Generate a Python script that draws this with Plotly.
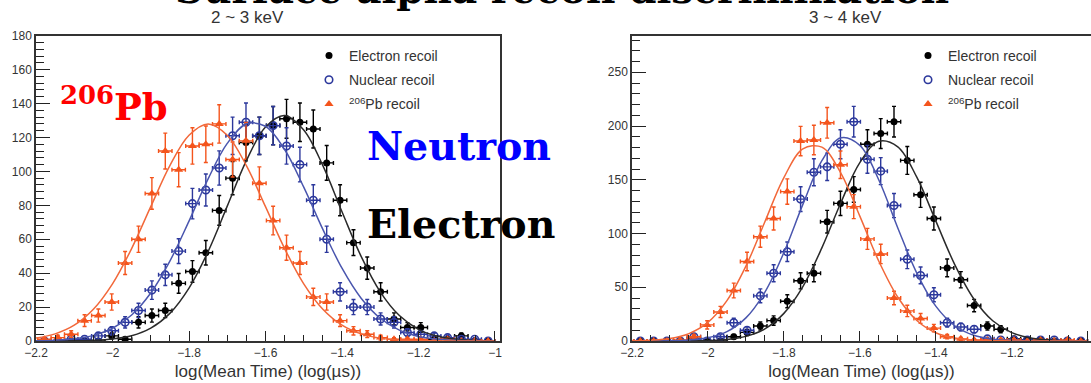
import numpy as np
import plotly.graph_objects as go

W, H = 1091, 383

# ---------------- data ----------------
bin_centers = [-2.178, -2.143, -2.108, -2.073, -2.037, -2.002, -1.967, -1.932, -1.897, -1.862,
               -1.827, -1.791, -1.756, -1.721, -1.686, -1.651, -1.616, -1.580, -1.545, -1.510,
               -1.475, -1.440, -1.405, -1.370, -1.334, -1.299, -1.264, -1.229, -1.194, -1.159,
               -1.124, -1.088, -1.053, -1.018]
bin_half_width = 0.0176

# 2 ~ 3 keV
left_electron = [0, 0, 0, 0, 0, 3, 1, 11, 15, 18, 34, 41, 52, 77, 96, 117, 121, 127, 131, 129,
                 125, 105, 83, 58, 43, 29, 13, 8, 8, 1, 1, 3, 0, 0]
left_nuclear = [0, 0, 1, 1, 3, 6, 11, 18, 30, 39, 53, 81, 89, 102, 121, 129, 121, 127, 115, 104,
                83, 60, 29, 20, 20, 13, 11, 5, 4, 3, 2, 1, 1, 0]
left_pb = [1, 2, 4, 12, 15, 23, 46, 60, 87, 112, 101, 115, 116, 128, 107, 118, 93, 71, 55, 46,
           26, 23, 12, 6, 4, 2, 1, 1, 1, 0, 1, 0, 0, 0]

# 3 ~ 4 keV
right_electron = [0, 0, 0, 0, 2, 0, 0, 4, 8, 14, 19, 37, 56, 63, 111, 128, 141, 183, 193, 204,
                  168, 136, 114, 68, 57, 33, 14, 11, 2, 1, 1, 0, 0, 0]
right_nuclear = [0, 0, 0, 0, 4, 0, 4, 17, 10, 42, 63, 83, 132, 157, 162, 183, 204, 169, 158, 126,
                 76, 61, 43, 17, 13, 11, 2, 1, 1, 1, 1, 1, 0, 0]
right_pb = [0, 0, 0, 1, 4, 15, 27, 47, 74, 97, 114, 139, 186, 187, 203, 164, 125, 95, 81, 40,
            28, 21, 12, 4, 2, 1, 1, 1, 1, 0, 1, 0, 1, 0]

# fitted curves
fit_x = [-2.20, -2.15, -2.10, -2.05, -2.00, -1.95, -1.90, -1.85, -1.80, -1.75, -1.70, -1.65, -1.60,
         -1.55, -1.50, -1.45, -1.40, -1.35, -1.30, -1.25, -1.20, -1.15, -1.10, -1.05, -1.00]
left_fit_electron = [0.0, 0.0, 0.1, 0.4, 1.2, 3.1, 7.6, 16.3, 31.2, 52.8, 79.5, 106.3, 126.2,
                     133.0, 124.4, 103.4, 76.2, 49.9, 29.0, 15.0, 6.9, 2.8, 1.0, 0.3, 0.1]
left_fit_nuclear = [0.2, 0.5, 1.3, 3.3, 7.5, 15.3, 28.3, 47.1, 70.7, 95.6, 116.5, 127.9, 126.6,
                    112.9, 90.7, 65.8, 42.9, 25.2, 13.4, 6.4, 2.7, 1.1, 0.4, 0.1, 0.0]
left_fit_pb = [1.7, 4.2, 9.3, 18.7, 33.7, 54.5, 79.2, 103.4, 121.3, 128.0, 121.3, 103.4, 79.2,
               54.5, 33.7, 18.7, 9.3, 4.2, 1.7, 0.6, 0.2, 0.1, 0.0, 0.0, 0.0]
right_fit_electron = [0.0, 0.0, 0.0, 0.1, 0.4, 1.4, 4.3, 11.3, 25.7, 50.6, 86.6, 128.6, 166.0,
                      185.8, 180.6, 152.4, 111.7, 71.1, 39.3, 18.8, 7.8, 2.8, 0.9, 0.2, 0.1]
right_fit_nuclear = [0.0, 0.1, 0.2, 0.9, 3.0, 8.7, 21.5, 45.5, 82.3, 127.1, 167.7, 189.0, 182.0,
                     149.8, 105.2, 63.2, 32.4, 14.2, 5.3, 1.7, 0.5, 0.1, 0.0, 0.0, 0.0]
right_fit_pb = [0.2, 0.7, 2.3, 6.9, 17.3, 37.5, 69.6, 111.0, 152.0, 178.7, 180.3, 156.2, 116.2,
                74.2, 40.7, 19.1, 7.7, 2.7, 0.8, 0.2, 0.1, 0.0, 0.0, 0.0, 0.0]

series_names = ["Electron recoil", "Nuclear recoil", "<sup>206</sup>Pb recoil"]
x_tick_vals = [-2.2, -2.0, -1.8, -1.6, -1.4, -1.2, -1.0]
x_tick_text = ["\u22122.2", "\u22122", "\u22121.8", "\u22121.6", "\u22121.4", "\u22121.2", "\u22121"]

# ---------------- style ----------------
MARK_COL = ["#000000", "#2c389c", "#f4541c"]
LINE_COL = ["#2a2a2a", "#4a56ae", "#f2683a"]
SYMBOLS = ["circle", "circle-open", "triangle-up"]
SIZES = [7, 7.5, 8]
TXT = "#333333"
SANS = "Liberation Sans, Arial, Helvetica, sans-serif"
SERIF = "DejaVu Serif, serif"


def px(x):
    return x / W


def py(y):
    return 1 - y / H


fig = go.Figure()

panels = [
    ("x", "y", "legend", [left_electron, left_nuclear, left_pb],
     [left_fit_electron, left_fit_nuclear, left_fit_pb]),
    ("x2", "y2", "legend2", [right_electron, right_nuclear, right_pb],
     [right_fit_electron, right_fit_nuclear, right_fit_pb]),
]

for xa, ya, leg, data, fits in panels:
    for k in range(3):
        vals = np.array(data[k], dtype=float)
        fig.add_trace(go.Scatter(
            x=bin_centers, y=vals, mode="markers", xaxis=xa, yaxis=ya,
            name=series_names[k], legend=leg, legendgroup=leg + str(k),
            marker=dict(symbol=SYMBOLS[k], size=SIZES[k], color=MARK_COL[k],
                        line=dict(width=1.6 if k == 1 else 0, color=MARK_COL[k])),
            error_y=dict(type="data", array=np.sqrt(vals), color=MARK_COL[k],
                         thickness=1.4, width=2),
            error_x=dict(type="constant", value=bin_half_width, color=MARK_COL[k],
                         thickness=1.4, width=2),
            hoverinfo="skip",
        ))
    for k in range(3):
        fig.add_trace(go.Scatter(
            x=fit_x, y=fits[k], mode="lines", xaxis=xa, yaxis=ya, showlegend=False,
            line=dict(color=LINE_COL[k], width=1.5, shape="spline", smoothing=1.0),
            hoverinfo="skip",
        ))

common_x = dict(
    tickmode="array", tickvals=x_tick_vals, ticktext=x_tick_text,
    ticks="inside", ticklen=10, tickwidth=1.2, tickcolor="#222",
    minor=dict(dtick=0.05, tick0=-2.2, ticks="inside", ticklen=6, tickwidth=1.1, tickcolor="#222"),
    showline=True, linecolor="#333", linewidth=1.5, mirror=True,
    showgrid=False, zeroline=False, automargin=False,
    tickfont=dict(family=SANS, size=12, color=TXT),
    title=dict(text="log(Mean Time) (log(\u00b5s))", font=dict(family=SANS, size=17, color=TXT),
               standoff=6),
)
common_y = dict(
    ticks="inside", ticklen=14, tickwidth=1.2, tickcolor="#222",
    showline=True, linecolor="#333", linewidth=1.5,
    showgrid=False, zeroline=False, automargin=False,
    tickfont=dict(family=SANS, size=12, color=TXT),
)

y_dom = [py(341), py(35.7)]

fig.update_layout(
    width=W, height=H,
    margin=dict(l=0, r=0, t=0, b=0, autoexpand=False),
    paper_bgcolor="white", plot_bgcolor="white",
    xaxis=dict(domain=[px(36), px(500)], range=[-2.2, -0.9869], anchor="y", **common_x),
    yaxis=dict(domain=y_dom, range=[0, 180], dtick=20, tick0=0, anchor="x", mirror=True,
               minor=dict(dtick=4, ticks="inside", ticklen=8, tickwidth=1.1, tickcolor="#222"),
               **common_y),
    xaxis2=dict(domain=[px(632), 1.0], range=[-2.2, -0.9912], anchor="y2", **common_x),
    yaxis2=dict(domain=y_dom, range=[0, 284], dtick=50, tick0=0, anchor="x2", mirror=False,
                minor=dict(dtick=10, ticks="inside", ticklen=8, tickwidth=1.1, tickcolor="#222"),
                **common_y),
    legend=dict(x=px(309), y=py(40), xanchor="left", yanchor="top",
                bgcolor="rgba(0,0,0,0)", font=dict(family=SANS, size=14, color=TXT),
                itemwidth=30, tracegroupgap=3),
    legend2=dict(x=px(908), y=py(40), xanchor="left", yanchor="top",
                 bgcolor="rgba(0,0,0,0)", font=dict(family=SANS, size=14, color=TXT),
                 itemwidth=30, tracegroupgap=3),
    showlegend=True,
)

annotations = [
    dict(text="<b>Surface alpha recoil discrimination</b>", x=px(562), y=py(14),
         xanchor="center", yanchor="bottom", font=dict(family=SERIF, size=39, color="black")),
    dict(text="2 ~ 3 keV", x=px(247), y=py(17), xanchor="center", yanchor="middle",
         font=dict(family=SANS, size=17, color=TXT)),
    dict(text="3 ~ 4 keV", x=px(845), y=py(17), xanchor="center", yanchor="middle",
         font=dict(family=SANS, size=17, color=TXT)),
    dict(text="<b><sup>206</sup>Pb</b>", x=px(58), y=py(104), xanchor="left", yanchor="middle",
         font=dict(family=SERIF, size=37, color="#ff0000")),
    dict(text="<b>Neutron</b>", x=px(365), y=py(146), xanchor="left", yanchor="middle",
         font=dict(family=SERIF, size=39.5, color="#0000ff")),
    dict(text="<b>Electron</b>", x=px(365), y=py(224), xanchor="left", yanchor="middle",
         font=dict(family=SERIF, size=39.5, color="#000000")),
]
for a in annotations:
    a.update(xref="paper", yref="paper", showarrow=False)
fig.update_layout(annotations=annotations)

fig.write_html("out.html")
